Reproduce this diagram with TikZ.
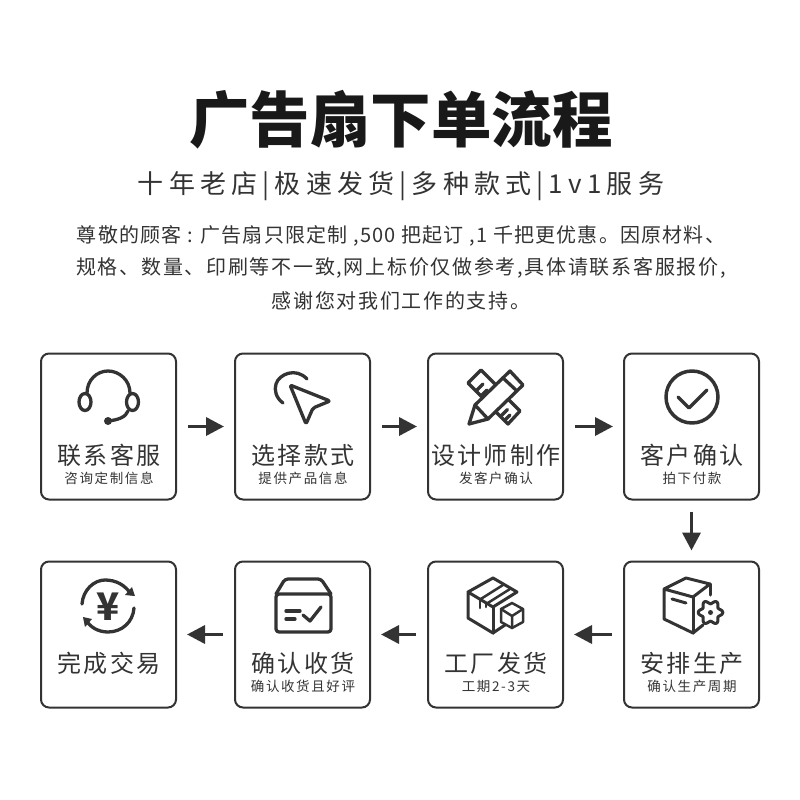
\documentclass[tikz,border=0pt]{standalone}
\usepackage{fontspec}
\usetikzlibrary{arrows.meta}
\newfontfamily\cjk{Noto Sans CJK SC}
\newfontfamily\cjklabel[LetterSpace=9]{Noto Sans CJK SC}
\newfontfamily\cjksub[LetterSpace=12]{Noto Sans CJK SC}
\newfontfamily\cjkbody[LetterSpace=8.5]{Noto Sans CJK SC}
\definecolor{ink}{HTML}{333333}
\tikzset{
  box/.style = {draw = ink, line width = 2pt, rounded corners = 8pt, minimum width = 135pt, minimum height = 146pt},
  boxlabel/.style = {text = ink, inner sep = 0pt, font = \cjklabel\fontsize{24}{24}\selectfont},
  boxsub/.style = {text = ink, inner sep = 0pt, font = \cjksub\fontsize{13.5}{13.5}\selectfont},
  bodyline/.style = {text = ink, inner sep = 0pt, font = \cjkbody\fontsize{20}{20}\selectfont},
  flow/.style = {draw = ink, line width = 3.5pt, shorten > = 10pt, shorten < = 11pt, -{Triangle[length = 18pt, width = 18pt]}},
  icon/.style = {draw = ink, line width = 3.3pt, line cap = round, line join = round},
  thinicon/.style = {draw = ink, line width = 2.5pt, line cap = round, line join = round}
}
\begin{document}
\begin{tikzpicture} [x = 1pt, y = -1pt]
\useasboundingbox (0,0) rectangle (800,800);
\node [text = black!90, inner sep = 0pt, font = \cjk\bfseries\fontsize{60.5}{60.5}\selectfont] (title) at (401,120) {广告扇下单流程};
\node [text = ink, inner sep = 0pt, font = \cjk\fontsize{26}{26}\selectfont] (slogan) at (401,186) {\addfontfeature{LetterSpace=20}十年老店|极速发货|多种款式|1v1服务};
\node [bodyline] (intro1) at (401,236) {\addfontfeature{LetterSpace=6}尊敬的顾客 : 广告扇只限定制 ,500 把起订 ,1 千把更优惠。因原材料、};
\node [bodyline] (intro2) at (401,268) {规格、数量、印刷等不一致,网上标价仅做参考,具体请联系客服报价,};
\node [bodyline] (intro3) at (401,301) {感谢您对我们工作的支持。};
\foreach \n/\x/\y in {1/108.5/426.5,2/302.5/426.5,3/495.5/426.5,4/691.5/426.5,5/691.5/634.5,6/495.5/634.5,7/302.5/634.5,8/108.5/634.5} {
\node [box] (box\n) at (\x,\y) {};
}
\node [boxlabel] (label1) at (109,455) {联系客服};
\node [boxsub] (sub1) at (109,478) {咨询定制信息};
\node [boxlabel] (label2) at (303,455) {选择款式};
\node [boxsub] (sub2) at (303,478) {提供产品信息};
\node [boxlabel] (label3) at (496,455) {设计师制作};
\node [boxsub] (sub3) at (496,478) {发客户确认};
\node [boxlabel] (label4) at (692,455) {客户确认};
\node [boxsub] (sub4) at (692,478) {拍下付款};
\node [boxlabel] (label5) at (692,663) {安排生产};
\node [boxsub] (sub5) at (692,686) {确认生产周期};
\node [boxlabel] (label6) at (496,663) {工厂发货};
\node [boxsub] (sub6) at (496,686) {工期2-3天};
\node [boxlabel] (label7) at (303,663) {确认收货};
\node [boxsub] (sub7) at (303,686) {确认收货且好评};
\node [boxlabel] (label8) at (109,663) {完成交易};
\draw [flow] (box1) -- (box2);
\draw [flow] (box2) -- (box3);
\draw [flow] (box3) -- (box4);
\draw [flow] (box4) -- (box5);
\draw [flow] (box5) -- (box6);
\draw [flow] (box6) -- (box7);
\draw [flow] (box7) -- (box8);
% headset
\draw [icon] (87,393) .. controls (87,380) and (97,371) .. (108,371) .. controls (119,371) and (130,380) .. (130,393);
\draw [icon] (85,402) ellipse (6 and 8.5);
\draw [icon] (132.5,402) ellipse (6 and 8.5);
\draw [icon] (108,421) .. controls (118,420) and (126,417) .. (128,411);
\fill [ink] (108,421) circle (4);
% cursor
\draw [icon] (283,403) .. controls (276,398) and (274,390) .. (276,384) .. controls (279,374) and (296,367) .. (307,379);
\draw [icon, rounded corners = 2pt] (290,385) -- (330,401) -- (313,408) -- (306,424) -- cycle;
% pencil and ruler
\draw [icon] (482.5,397.5) -- (468,383) -- (481,370) -- (496,385);
\draw [icon] (508.5,399.5) -- (520,411) -- (508,424) -- (496,412);
\draw [icon] (476,391) -- (483,384);
\draw [icon] (481,396) -- (487,390);
\draw [icon] (501,416) -- (507.5,409.5);
\draw [icon] (505,420) -- (510,415);
\draw [icon] (469,424) -- (475,405) -- (510,371) -- (523,385) -- (488,419) -- cycle;
\draw [icon] (475,405) -- (488,419);
\draw [icon] (503,378) -- (517,391);
% check
\draw [icon, line width = 3.5pt] (692,397) circle (26);
\draw [icon] (678,397) -- (689,408) -- (707,390);
% money
\draw [icon] (82,604) .. controls (83,590) and (94,580) .. (105,580) .. controls (116,580) and (125,585) .. (131,594);
\fill [ink] (135,596) -- (125,595) -- (132,587) -- cycle;
\draw [icon] (134,608) .. controls (133,622) and (122,632) .. (108,632) .. controls (98,632) and (90,627) .. (86,620);
\fill [ink] (83,617) -- (92,619) -- (85,627) -- cycle;
\node [text = ink, inner sep = 0pt, font = \cjk\bfseries\fontsize{38}{38}\selectfont] (yuan) at (108,607) {¥};
% parcel with tick
\draw [icon, rounded corners = 3pt] (276,594) -- (331,594) -- (331,632) -- (276,632) -- cycle;
\draw [icon, rounded corners = 3pt] (276,594) -- (285,579) -- (321,579) -- (331,594);
\draw [icon] (286,611) -- (300,611);
\draw [icon] (286,619) -- (295,619);
\draw [icon] (303,615) -- (310,621) -- (321,607);
% parcels
\draw [icon, line width = 3pt] (505,625) -- (493,633) -- (468,618) -- (468,592) -- (493,578) -- (517,592) -- (493,607) -- (468,592);
\draw [icon, line width = 3pt] (493,607) -- (493,633);
\draw [thinicon] (480,599.5) -- (503,585);
\draw [thinicon] (487,603.5) -- (510,589);
\draw [thinicon] (480,599.5) -- (480,608);
\draw [thinicon] (486,603) -- (486,607);
\draw [thinicon] (512,603) -- (523,609) -- (523,622) -- (512,628) -- (501,622) -- (501,609) -- cycle;
\draw [thinicon] (501,609) -- (512,616) -- (523,609) (512,616) -- (512,628);
% parcel with gear
\draw [icon, line width = 3pt] (703,625) -- (693,633) -- (664,619) -- (664,589) -- (686,578) -- (710,584) -- (693,597) -- (664,589);
\draw [icon, line width = 3pt] (693,597) -- (693,633);
\draw [icon, line width = 3pt] (710,584) -- (710,595);
\draw [icon, line width = 3pt] (672,599) -- (686,603);
\draw [icon, line width = 3pt, smooth, samples = 73, domain = 0:355] plot ({710.5 + (10.5 + 1.8*cos(6*\x))*cos(\x)}, {612.5 + (10.5 + 1.8*cos(6*\x))*sin(\x)}) -- cycle;
\fill [ink] (710.5,612.5) circle (2.5);
\end{tikzpicture}
\end{document}
